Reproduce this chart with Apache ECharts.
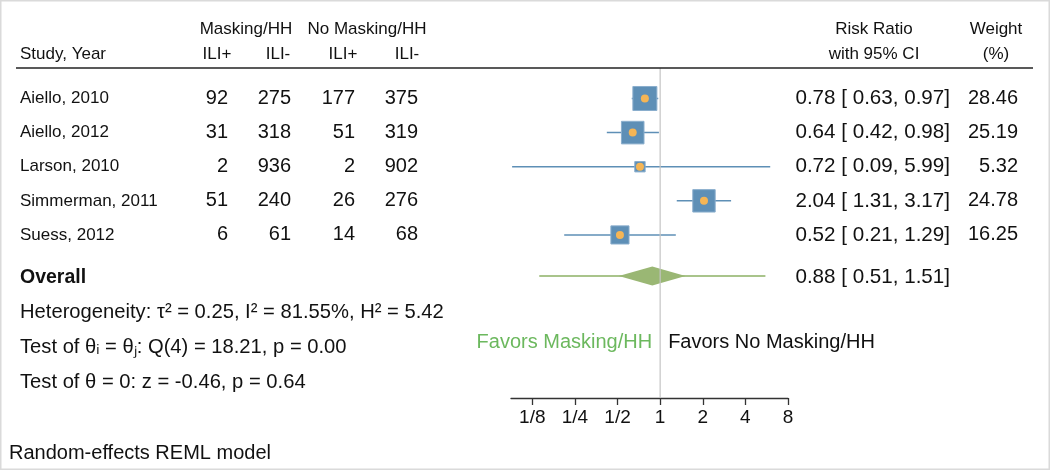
<!DOCTYPE html>
<html><head><meta charset="utf-8">
<script src="https://cdn.jsdelivr.net/npm/echarts@6/dist/echarts.min.js"></script>
<style>html,body{margin:0;padding:0;background:#fff}#c{width:1050px;height:471px}</style>
</head><body><div id="c"></div>
<script>
// ---------- data ----------
const studies   = ['Aiello, 2010','Aiello, 2012','Larson, 2010','Simmerman, 2011','Suess, 2012'];
const maskPos   = [92, 31, 2, 51, 6];
const maskNeg   = [275, 318, 936, 240, 61];
const noMaskPos = [177, 51, 2, 26, 14];
const noMaskNeg = [375, 319, 902, 276, 68];
const rr        = [0.78, 0.64, 0.72, 2.04, 0.52];
const ciLow     = [0.63, 0.42, 0.09, 1.31, 0.21];
const ciHigh    = [0.97, 0.98, 5.99, 3.17, 1.29];
const weights   = [28.46, 25.19, 5.32, 24.78, 16.25];
const overallRR = [0.88];
const overallLo = [0.51];
const overallHi = [1.51];
const predLo    = [0.14];
const predHi    = [5.54];
const tickValues = [0.125, 0.25, 0.5, 1, 2, 4, 8];
const tickLabels = ['1/8','1/4','1/2','1','2','4','8'];
const statLines = [
  'Heterogeneity: \u03c4\u00b2 = 0.25, I\u00b2 = 81.55%, H\u00b2 = 5.42',
  'Test of \u03b8\u1d62 = \u03b8\u2c7c: Q(4) = 18.21, p = 0.00',
  'Test of \u03b8 = 0: z = -0.46, p = 0.64'
];
// row positions (in row units)
const studyRows = [0, 1, 2, 3, 4];
const overallRow = 5.2;
const statRows = [6.26, 7.29, 8.32];
const favorsRow = 7.15;

// ---------- chart ----------
const FONT = "'Liberation Sans', Arial, Helvetica, sans-serif";
const lg = v => Math.log2(v);
const BLUE = '#5e8fb6', ORANGE = '#f5b555', GREEN = '#9ab774';
const yMin = -0.894, yMax = 8.78;

const chart = echarts.init(document.getElementById('c'), null, {renderer: 'canvas'});

const lineItem = (params, api) => {
  const a = api.coord([api.value(0), api.value(2)]);
  const b = api.coord([api.value(1), api.value(2)]);
  return {type: 'line', shape: {x1: a[0], y1: a[1], x2: b[0], y2: b[1]},
          style: {stroke: api.visual('color'), lineWidth: api.value(3)}};
};

const option = {
  animation: false,
  backgroundColor: '#fff',
  grid: {left: 511, right: 262, top: 68, bottom: 73, containLabel: false},
  xAxis: {
    type: 'value', min: lg(1/8) - 0.5, max: lg(8),
    splitLine: {show: false},
    axisLine: {show: true, onZero: false, lineStyle: {color: '#333', width: 1.3}},
    axisTick: {show: true, length: 7, inside: false, lineStyle: {color: '#333', width: 1.3},
               customValues: tickValues.map(lg)},
    axisLabel: {show: true, customValues: tickValues.map(lg), margin: 10,
                fontSize: 19, fontFamily: FONT, color: '#111',
                formatter: v => { const i = tickValues.findIndex(t => Math.abs(lg(t) - v) < 1e-6); return i >= 0 ? tickLabels[i] : ''; }}
  },
  yAxis: {type: 'value', inverse: true, min: yMin, max: yMax, show: false},
  series: [
    { // reference line at RR = 1
      type: 'line', data: [[lg(1), yMin], [lg(1), yMax]], symbol: 'none', z: 5,
      lineStyle: {color: '#c4c4c4', width: 1.2}, silent: true
    },
    { // prediction interval line (overall)
      type: 'custom', renderItem: lineItem, z: 2,
      itemStyle: {color: '#a9c48b'},
      data: predLo.map((l, i) => [lg(l), lg(predHi[i]), overallRow, 2])
    },
    { // overall diamond
      type: 'custom', z: 3,
      renderItem: (params, api) => {
        const lo = api.coord([api.value(0), api.value(3)]);
        const mid = api.coord([api.value(1), api.value(3)]);
        const hi = api.coord([api.value(2), api.value(3)]);
        const h = 9.5;
        return {type: 'polygon', shape: {points: [[lo[0], lo[1]], [mid[0], mid[1] - h], [hi[0], hi[1]], [mid[0], mid[1] + h]]},
                style: {fill: GREEN}};
      },
      data: overallRR.map((r, i) => [lg(overallLo[i]), lg(r), lg(overallHi[i]), overallRow])
    },
    { // study CI lines
      type: 'custom', renderItem: lineItem, z: 2,
      itemStyle: {color: BLUE},
      data: studyRows.map((r, i) => [lg(ciLow[i]), lg(ciHigh[i]), r, 1.5])
    },
    { // weight boxes
      type: 'scatter', symbol: 'rect', z: 3,
      symbolSize: v => 4.5 * Math.sqrt(v[2]),
      itemStyle: {color: BLUE, borderColor: '#8aaecd', borderWidth: 1, opacity: 1},
      data: studyRows.map((r, i) => [lg(rr[i]), r, weights[i]])
    },
    { // point estimates
      type: 'scatter', symbol: 'circle', symbolSize: 8, z: 4,
      itemStyle: {color: ORANGE, opacity: 1},
      data: studyRows.map((r, i) => [lg(rr[i]), r])
    }
  ]
};
chart.setOption(option);

// ---------- table texts ----------
const rowY = r => chart.convertToPixel({yAxisIndex: 0}, r);
const txt = (text, x, y, opt = {}) => ({
  type: 'text', x: x, y: y, z: 10, silent: true,
  style: Object.assign({
    text: text, fill: '#111', fontSize: 17, fontFamily: FONT,
    align: opt.align || 'left', verticalAlign: 'middle',
    textAlign: opt.align || 'left', textVerticalAlign: 'middle'
  }, opt.style || {})
});
const g = [];
// frame
g.push({type: 'rect', shape: {x: 0.75, y: 0.75, width: 1048.5, height: 468.5},
        style: {fill: 'none', stroke: '#dadada', lineWidth: 1.5}, z: 0, silent: true});
// headers
g.push(txt('Masking/HH', 246, 29, {align: 'center'}));
g.push(txt('No Masking/HH', 367, 29, {align: 'center'}));
g.push(txt('Study, Year', 20, 54));
g.push(txt('ILI+', 217, 54, {align: 'center'}));
g.push(txt('ILI-', 278, 54, {align: 'center'}));
g.push(txt('ILI+', 343, 54, {align: 'center'}));
g.push(txt('ILI-', 407, 54, {align: 'center'}));
g.push(txt('Risk Ratio', 874, 29, {align: 'center'}));
g.push(txt('with 95% CI', 874, 54, {align: 'center'}));
g.push(txt('Weight', 996, 29, {align: 'center'}));
g.push(txt('(%)', 996, 54, {align: 'center'}));
g.push({type: 'line', shape: {x1: 16, y1: 68, x2: 1033, y2: 68},
        style: {stroke: '#222', lineWidth: 1.5}, z: 10, silent: true});
// study rows
const numCols = [[maskPos, 228], [maskNeg, 291], [noMaskPos, 355], [noMaskNeg, 418]];
const f2 = v => v.toFixed(2);
studyRows.forEach((r, i) => {
  const y = rowY(r);
  g.push(txt(studies[i], 20, y));
  numCols.forEach(([arr, x]) => g.push(txt(String(arr[i]), x, y, {align: 'right', style: {fontSize: 20}})));
  g.push(txt(f2(rr[i]) + ' [ ' + f2(ciLow[i]) + ', ' + f2(ciHigh[i]) + ']', 950, y, {align: 'right', style: {fontSize: 20.6}}));
  g.push(txt(f2(weights[i]), 1018, y, {align: 'right', style: {fontSize: 20}}));
});
// overall
const oy = rowY(overallRow) + 1.5;
g.push(txt('Overall', 20, oy, {style: {fontSize: 19.5, fontWeight: 'bold'}}));
g.push(txt(f2(overallRR[0]) + ' [ ' + f2(overallLo[0]) + ', ' + f2(overallHi[0]) + ']', 950, oy, {align: 'right', style: {fontSize: 20.6}}));
// stats
statLines.forEach((s, i) => g.push(txt(s, 20, rowY(statRows[i]), {style: {fontSize: 20.2}})));
// favors
const fy = rowY(favorsRow);
const x1 = chart.convertToPixel({xAxisIndex: 0}, lg(1));
g.push(txt('Favors Masking/HH', x1 - 8, fy, {align: 'right', style: {fontSize: 20, fill: '#6cb85e'}}));
g.push(txt('Favors No Masking/HH', x1 + 8, fy, {align: 'left', style: {fontSize: 20}}));
// footnote
g.push(txt('Random-effects REML model', 9, 453, {style: {fontSize: 20}}));

chart.setOption({graphic: {elements: g}});
</script>
</body></html>
